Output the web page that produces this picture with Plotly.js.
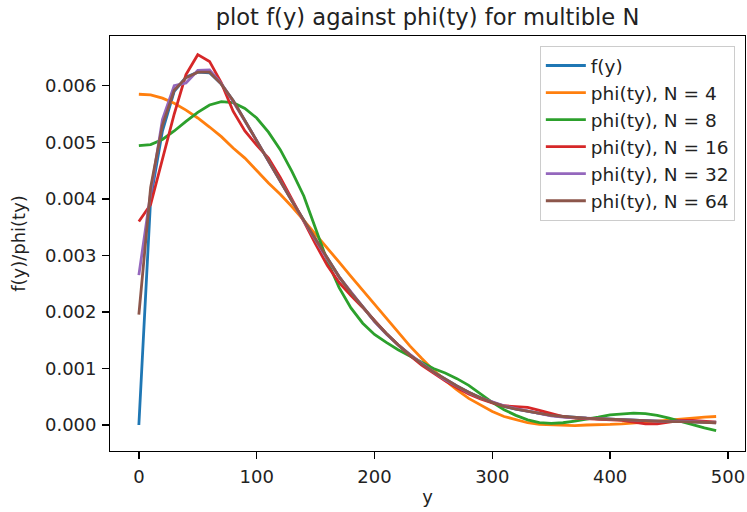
<!DOCTYPE html>
<html>
<head>
<meta charset="utf-8">
<script src="https://cdn.plot.ly/plotly-3.0.1.min.js"></script>
<style>html,body{margin:0;padding:0;background:#fff;}#chart{width:747px;height:512px;}</style>
</head>
<body>
<div id="chart"></div>
<script>
const yValues = [0,10,20,30,40,50,60,70,80,90,100,110,120,130,140,150,160,170,180,190,200,210,220,230,240,250,260,270,280,290,300,310,320,330,340,350,360,370,380,390,400,410,420,430,440,450,460,470,480,490];

const fY = [0,0.0040,0.0052,0.0059,0.00615,0.00624,0.00623,0.00603,0.00574,0.00538,0.00502,0.00466,0.00430,0.00396,0.00362,0.00328,0.00294,0.00262,0.00234,0.00208,0.00184,0.00162,0.00142,0.00124,0.00108,0.00094,0.00081,0.00069,0.00058,0.00048,0.00040,0.00033,0.00028,0.00024,0.00020,0.00017,0.00015,0.00013,0.00012,0.00011,0.00010,0.00009,0.00008,0.00007,0.00007,0.00006,0.00006,0.00005,0.00005,0.00005];

const phiN4 = [0.00585,0.00584,0.00578,0.00569,0.00557,0.00543,0.00527,0.00510,0.00490,0.00472,0.00450,0.00428,0.00408,0.00386,0.00362,0.00338,0.00313,0.00288,0.00263,0.00238,0.00213,0.00188,0.00163,0.00140,0.00118,0.00097,0.00079,0.00062,0.00047,0.00035,0.00024,0.00015,0.00009,0.00004,0.00001,0.00000,-0.00001,-0.00001,0.00000,0.00000,0.00001,0.00002,0.00003,0.00005,0.00007,0.00009,0.00011,0.00013,0.00014,0.00015];

const phiN8 = [0.00494,0.00496,0.00505,0.00520,0.00537,0.00553,0.00566,0.00572,0.00570,0.00560,0.00543,0.00518,0.00487,0.00448,0.00405,0.00347,0.00290,0.00243,0.00207,0.00180,0.00160,0.00146,0.00133,0.00122,0.00111,0.00100,0.00092,0.00082,0.00070,0.00055,0.00040,0.00027,0.00017,0.00009,0.00004,0.00003,0.00004,0.00007,0.00010,0.00014,0.00018,0.00020,0.00021,0.00020,0.00017,0.00012,0.00006,0.00000,-0.00005,-0.00010];

const phiN16 = [0.00360,0.00390,0.00470,0.00550,0.00620,0.00655,0.00643,0.00605,0.00555,0.00520,0.00495,0.00472,0.00438,0.00400,0.00360,0.00320,0.00282,0.00252,0.00229,0.00208,0.00185,0.00162,0.00142,0.00123,0.00106,0.00092,0.00078,0.00066,0.00055,0.00046,0.00039,0.00034,0.00033,0.00031,0.00026,0.00020,0.00015,0.00012,0.00011,0.00011,0.00010,0.00008,0.00005,0.00002,0.00002,0.00005,0.00008,0.00008,0.00006,0.00005];

const phiN32 = [0.00265,0.00410,0.00540,0.00600,0.00605,0.00627,0.00628,0.00604,0.00572,0.00538,0.00503,0.00467,0.00431,0.00396,0.00361,0.00327,0.00293,0.00262,0.00235,0.00208,0.00183,0.00161,0.00142,0.00125,0.00109,0.00094,0.00080,0.00068,0.00057,0.00048,0.00041,0.00034,0.00029,0.00025,0.00020,0.00016,0.00014,0.00013,0.00012,0.00011,0.00010,0.00009,0.00008,0.00007,0.00006,0.00006,0.00007,0.00006,0.00004,0.00004];

const phiN64 = [0.00195,0.00420,0.00530,0.00592,0.00614,0.00624,0.00624,0.00603,0.00574,0.00538,0.00502,0.00466,0.00430,0.00396,0.00362,0.00328,0.00294,0.00262,0.00234,0.00208,0.00184,0.00162,0.00142,0.00124,0.00108,0.00094,0.00081,0.00069,0.00058,0.00048,0.00040,0.00033,0.00028,0.00024,0.00020,0.00017,0.00015,0.00013,0.00012,0.00011,0.00010,0.00009,0.00008,0.00007,0.00007,0.00006,0.00006,0.00005,0.00004,0.00004];

const seriesNames = ["f(y)", "phi(ty), N = 4", "phi(ty), N = 8", "phi(ty), N = 16", "phi(ty), N = 32", "phi(ty), N = 64"];
const seriesValues = [fY, phiN4, phiN8, phiN16, phiN32, phiN64];
const seriesColors = ["#1f77b4", "#ff7f0e", "#2ca02c", "#d62728", "#9467bd", "#8c564b"];

const traces = seriesValues.map((vals, i) => ({
  type: "scatter",
  mode: "lines",
  x: yValues,
  y: vals,
  name: seriesNames[i],
  line: {color: seriesColors[i], width: 2.8}
}));

const FONT = "DejaVu Sans, Liberation Sans, sans-serif";
const axisCommon = {
  showline: true,
  mirror: true,
  linecolor: "#000",
  linewidth: 1.4,
  ticks: "outside",
  ticklen: 6.5,
  tickwidth: 1.4,
  tickcolor: "#000",
  showgrid: false,
  zeroline: false,
  tickfont: {family: FONT, size: 18, color: "#222"}
};

const layout = {
  width: 747,
  height: 512,
  paper_bgcolor: "#fff",
  plot_bgcolor: "#fff",
  margin: {l: 110, r: 2, t: 36, b: 61},
  font: {family: FONT, color: "#222"},
  title: {
    text: "plot f(y) against phi(ty) for multible N",
    font: {family: FONT, size: 22.6, color: "#222"},
    xref: "paper", x: 0.5, xanchor: "center",
    yref: "container", y: 0.967, yanchor: "middle"
  },
  xaxis: Object.assign({}, axisCommon, {
    range: [-24.5, 514.5],
    tickmode: "linear", tick0: 0, dtick: 100,
    ticklabelstandoff: 2,
    title: {text: "y", font: {family: FONT, size: 18, color: "#222"}, standoff: 5}
  }),
  yaxis: Object.assign({}, axisCommon, {
    range: [-0.00046, 0.00688],
    tickmode: "linear", tick0: 0, dtick: 0.001,
    tickformat: ".3f",
    ticklabelstandoff: 2,
    title: {text: "f(y)/phi(ty)", font: {family: FONT, size: 18, color: "#222"}, standoff: 14}
  }),
  legend: {
    x: 0.984, xanchor: "right",
    y: 0.976, yanchor: "top",
    bgcolor: "rgba(255,255,255,0.8)",
    bordercolor: "#cccccc",
    borderwidth: 1,
    itemwidth: 40,
    font: {family: FONT, size: 18.5, color: "#222"},
    traceorder: "normal"
  },
  showlegend: true
};

Plotly.newPlot("chart", traces, layout, {displayModeBar: false, staticPlot: true});
</script>
</body>
</html>
